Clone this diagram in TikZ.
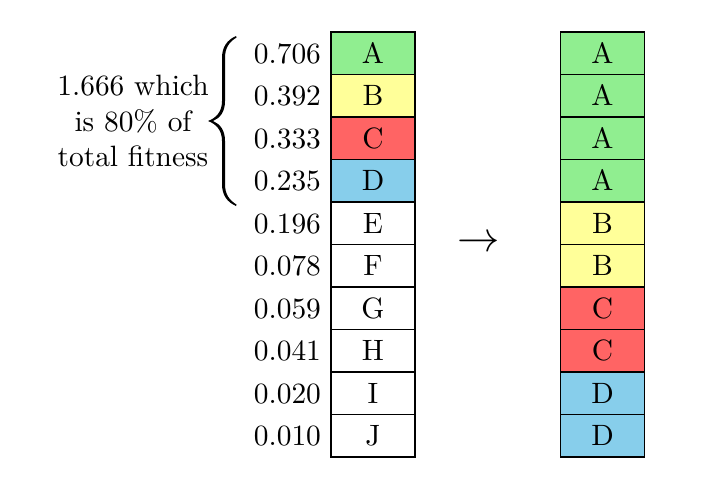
\documentclass[tikz,border=0pt]{standalone}
\usetikzlibrary{positioning}
\definecolor{cgreen}{RGB}{144,238,144}
\definecolor{cyellow}{RGB}{255,255,153}
\definecolor{cred}{RGB}{255,100,100}
\definecolor{cblue}{RGB}{135,206,235}
\begin{document}
\begin{tikzpicture}[x=0.34pt,y=-0.34pt,
  cell/.style={draw, line width=0.4pt, minimum width=28.6pt, minimum height=14.45pt, inner sep=0pt, text height=6.83pt, text depth=0pt},
  num/.style={anchor=east, inner sep=0pt, text height=6.83pt, text depth=0pt}]
\useasboundingbox (0,0) rectangle (703,488);
\foreach \lab/\val/\col [count=\i from 0] in {A/0.706/cgreen, B/0.392/cyellow, C/0.333/cred, D/0.235/cblue, E/0.196/white, F/0.078/white, G/0.059/white, H/0.041/white, I/0.020/white, J/0.010/white} {
  \node[cell, fill=\col] (L\i) at (373, 53.25+42.5*\i) {\lab};
  \node[num] (N\i) at (321.5, 53.25+42.5*\i) {\val};
}
\foreach \lab/\col [count=\i from 0] in {A/cgreen, A/cgreen, A/cgreen, A/cgreen, B/cyellow, B/cyellow, C/cred, C/cred, D/cblue, D/cblue} {
  \node[cell, fill=\col] (R\i) at (602.5, 53.25+42.5*\i) {\lab};
}
\node[inner sep=0pt] (arrow) at (479, 244) {\Large$\rightarrow$};
% curly brace
\fill (236,36) .. controls (227,40) and (222,47) .. (222,58)
  -- (222,101) .. controls (222,112) and (216,118) .. (208,121)
  .. controls (216,124) and (222,130) .. (222,141)
  -- (222,184) .. controls (222,195) and (227,202) .. (236,206)
  -- (236.5,204.5) .. controls (229,200) and (225,194) .. (225,184)
  -- (225,141) .. controls (225,130) and (220,124) .. (213,121)
  .. controls (220,118) and (225,112) .. (225,101)
  -- (225,58) .. controls (225,48) and (229,42) .. (236.5,37.5) -- cycle;
\node[align=center, inner sep=0pt] (label) at (133, 121) {1.666 which\\is 80\% of\\total fitness};
\end{tikzpicture}
\end{document}
